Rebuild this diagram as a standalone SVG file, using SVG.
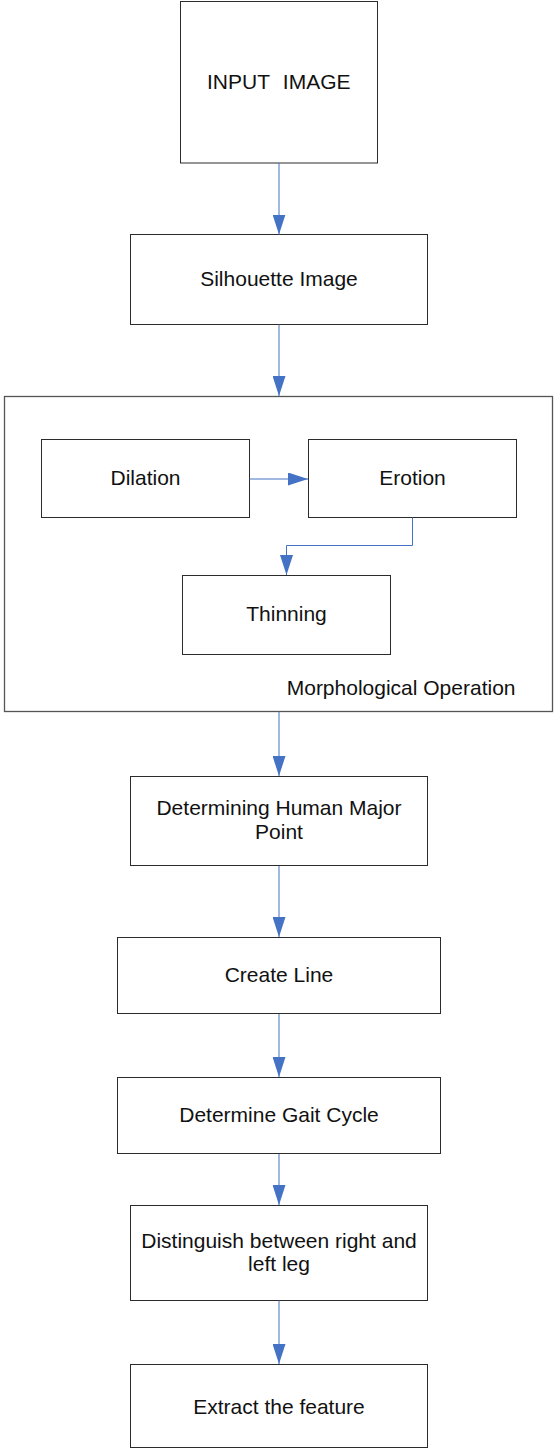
<svg xmlns="http://www.w3.org/2000/svg" width="554" height="1449" viewBox="0 0 554 1449">
  <style>
    .box { fill: #ffffff; stroke: #2b2b2b; stroke-width: 1; }
    .frame { fill: #ffffff; stroke: #555555; stroke-width: 1.3; }
    .lbl { font-family: "Liberation Sans", Arial, sans-serif; font-size: 21px; fill: #111111; text-anchor: middle; }
    .cap { font-family: "Liberation Sans", Arial, sans-serif; font-size: 21px; fill: #111111; text-anchor: end; }
    .conn { fill: none; stroke: #4472c4; stroke-width: 1; marker-end: url(#tip); }
  </style>
  <defs>
    <marker id="tip" markerUnits="userSpaceOnUse" markerWidth="20" markerHeight="13" refX="20" refY="6.5" orient="auto">
      <path d="M0,0 L20,6.5 L0,13 Z" fill="#4472c4"/>
    </marker>
  </defs>

  <rect width="554" height="1449" fill="#ffffff"/>

  <g id="input-image">
    <rect class="box" x="180.5" y="1.5" width="197" height="161.5"/>
    <text class="lbl" x="207" y="89" text-anchor="start" style="text-anchor:start">INPUT</text>
    <text class="cap" x="350.5" y="89">IMAGE</text>
  </g>

  <g id="silhouette-image">
    <rect class="box" x="130.5" y="234.5" width="297" height="90"/>
    <text class="lbl" x="279" y="285.5">Silhouette Image</text>
  </g>

  <g id="morphological-operation">
    <rect class="frame" x="4.5" y="396.5" width="548" height="315"/>
    <text class="cap" x="515.5" y="694.5">Morphological Operation</text>
  </g>

  <g id="dilation">
    <rect class="box" x="41.5" y="439.5" width="208" height="78"/>
    <text class="lbl" x="145.5" y="485">Dilation</text>
  </g>

  <g id="erotion">
    <rect class="box" x="308.5" y="439.5" width="208" height="78"/>
    <text class="lbl" x="412.5" y="485">Erotion</text>
  </g>

  <g id="thinning">
    <rect class="box" x="182.5" y="575.5" width="208" height="79"/>
    <text class="lbl" x="286.5" y="621">Thinning</text>
  </g>

  <g id="major-point">
    <rect class="box" x="130.5" y="776.5" width="297" height="89"/>
    <text class="lbl" x="279" y="815">Determining Human Major</text>
    <text class="lbl" x="279" y="838.5">Point</text>
  </g>

  <g id="create-line">
    <rect class="box" x="117.5" y="937.5" width="323" height="76"/>
    <text class="lbl" x="279" y="982">Create Line</text>
  </g>

  <g id="gait-cycle">
    <rect class="box" x="117.5" y="1077.5" width="323" height="76"/>
    <text class="lbl" x="279" y="1122">Determine Gait Cycle</text>
  </g>

  <g id="right-left-leg">
    <rect class="box" x="130.5" y="1205.5" width="297" height="95"/>
    <text class="lbl" x="279" y="1247.5">Distinguish between right and</text>
    <text class="lbl" x="279" y="1271">left leg</text>
  </g>

  <g id="extract-feature">
    <rect class="box" x="130.5" y="1364.5" width="297" height="83"/>
    <text class="lbl" x="279" y="1413.5">Extract the feature</text>
  </g>

  <g id="connectors">
    <path class="conn" d="M279,163 L279,234.5"/>
    <path class="conn" d="M279,324.5 L279,396"/>
    <path class="conn" d="M249.5,479 L308,479"/>
    <path class="conn" d="M412.5,517.5 L412.5,545.5 L286.5,545.5 L286.5,575"/>
    <path class="conn" d="M279,711.5 L279,776"/>
    <path class="conn" d="M279,866 L279,937"/>
    <path class="conn" d="M279,1014 L279,1077"/>
    <path class="conn" d="M279,1154 L279,1205"/>
    <path class="conn" d="M279,1300.5 L279,1364"/>
  </g>
</svg>
